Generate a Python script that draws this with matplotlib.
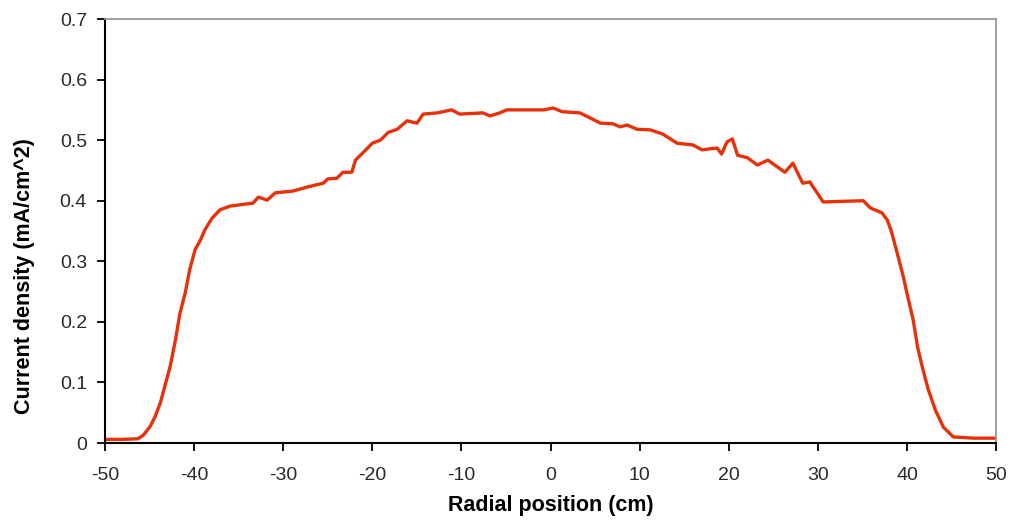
import matplotlib
matplotlib.use("Agg")
from matplotlib import pyplot as plt

# radial position (cm) and current density (mA/cm^2)
radius = [-50, -48, -46.3, -45.7, -44.95, -44.4, -43.8, -43.3, -42.7, -42.1, -41.6,
          -41.0, -40.5, -39.9, -39.3, -38.8, -38.0, -37.1, -36.0, -34.5, -33.4,
          -32.8, -31.8, -30.9, -28.9, -27.2, -25.5, -25.0, -24.0, -23.3, -22.3,
          -21.9, -21.0, -20.0, -19.1, -18.2, -17.2, -16.1, -15.0, -14.3, -12.7,
          -11.1, -10.2, -7.6, -6.8, -5.7, -4.9, -0.8, 0.3, 1.3, 3.3, 4.4, 5.6,
          7.0, 7.8, 8.6, 9.7, 11.2, 12.6, 14.2, 16.0, 17.0, 18.7, 19.2, 19.8,
          20.4, 21.0, 22.1, 23.2, 24.4, 26.3, 27.2, 28.3, 29.1, 30.6, 35.1,
          35.9, 37.2, 37.8, 38.3, 38.9, 39.6, 40.1, 40.7, 41.2, 41.8, 42.4,
          43.2, 44.1, 45.2, 47.5, 50]
density = [0.006, 0.006, 0.007, 0.013, 0.027, 0.043, 0.066, 0.093, 0.126, 0.170, 0.214,
           0.248, 0.286, 0.319, 0.335, 0.352, 0.371, 0.385, 0.391, 0.394, 0.396,
           0.406, 0.401, 0.413, 0.416, 0.423, 0.429, 0.436, 0.437, 0.447, 0.447,
           0.467, 0.480, 0.495, 0.500, 0.513, 0.518, 0.532, 0.528, 0.543, 0.545,
           0.550, 0.543, 0.545, 0.540, 0.545, 0.550, 0.550, 0.553, 0.547, 0.545,
           0.537, 0.528, 0.527, 0.522, 0.525, 0.518, 0.517, 0.510, 0.495, 0.492,
           0.484, 0.487, 0.477, 0.497, 0.502, 0.475, 0.471, 0.459, 0.467, 0.447,
           0.462, 0.429, 0.431, 0.398, 0.400, 0.388, 0.380, 0.368, 0.347, 0.314,
           0.274, 0.241, 0.203, 0.158, 0.121, 0.088, 0.054, 0.026, 0.010, 0.008,
           0.008]

x_ticks = [-50, -40, -30, -20, -10, 0, 10, 20, 30, 40, 50]
y_ticks = [0, 0.1, 0.2, 0.3, 0.4, 0.5, 0.6, 0.7]

plt.rcParams['font.family'] = ['Liberation Sans', 'DejaVu Sans']

fig = plt.figure(figsize=(10.11, 5.21), dpi=100)
ax = fig.add_axes([0.1039, 0.1497, 0.8813, 0.8138])

ax.plot(radius, density, color='#e8300a', linewidth=2.4)

ax.set_xlim(-50, 50)
ax.set_ylim(0, 0.7)
ax.set_xticks(x_ticks)
ax.set_xticklabels([str(t) for t in x_ticks])
ax.set_yticks(y_ticks)
ax.set_yticklabels(['0'] + [f'{t:.1f}' for t in y_ticks[1:]])

ax.tick_params(axis='x', direction='out', length=6, width=1.3, pad=11,
               labelsize=14, colors='black', labelcolor='#2a2a2a')
ax.tick_params(axis='y', direction='out', length=6, width=1.3, pad=7,
               labelsize=14, colors='black', labelcolor='#2a2a2a')

ax.spines['left'].set_color('black')
ax.spines['bottom'].set_color('black')
ax.spines['left'].set_linewidth(1.5)
ax.spines['bottom'].set_linewidth(1.5)
ax.spines['top'].set_color('#999999')
ax.spines['right'].set_color('#999999')
ax.spines['top'].set_linewidth(1.3)
ax.spines['right'].set_linewidth(1.3)

ax.set_xlabel('Radial position (cm)', fontsize=15.5, fontweight='bold', labelpad=8)
ax.set_ylabel('Current density (mA/cm^2)', fontsize=15.5, fontweight='bold')
# y label sits a bit below the middle in the original
ax.yaxis.set_label_coords(-0.079, 0.393)

fig.savefig('out.png', dpi=100)
